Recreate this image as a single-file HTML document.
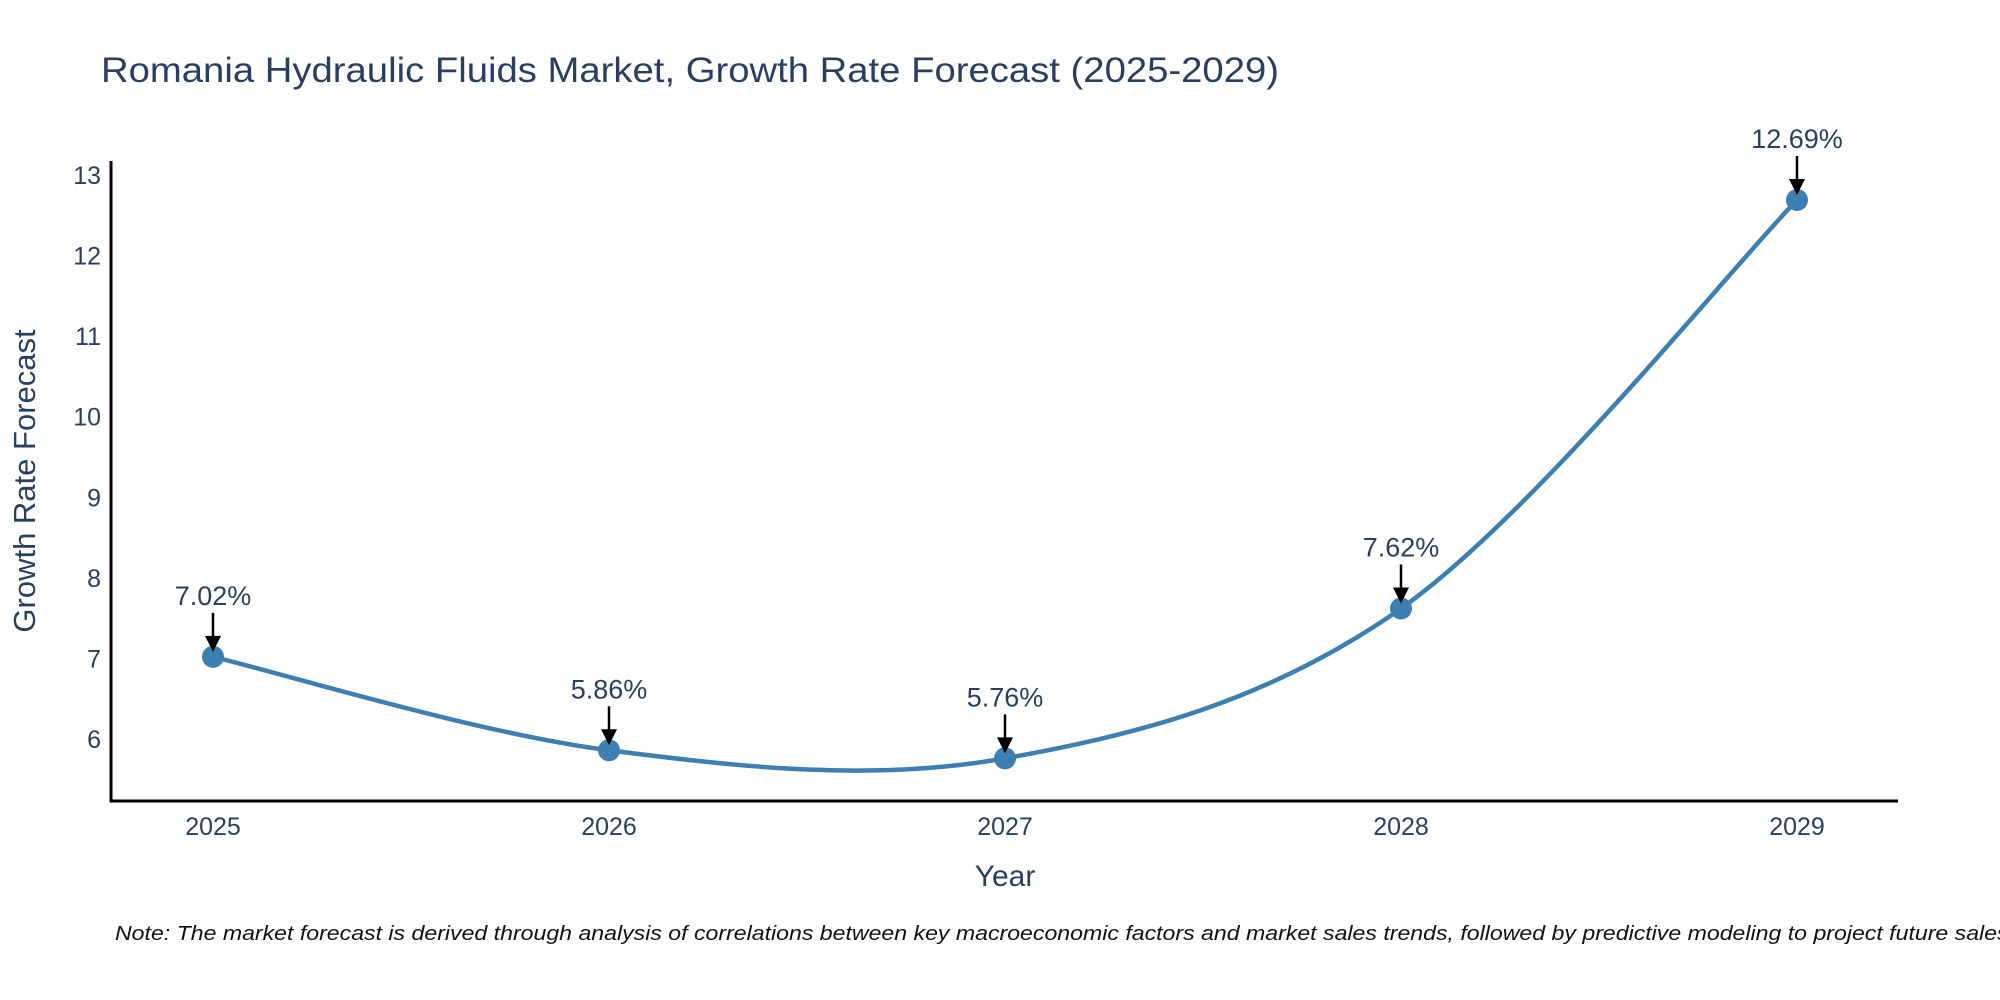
<!DOCTYPE html>
<html><head><meta charset="utf-8"><style>
html,body{margin:0;padding:0;background:#fff;}
svg{display:block;font-family:"Liberation Sans",sans-serif;}
</style></head><body>
<svg id="chart" width="2000" height="1000" viewBox="0 0 2000 1000">
<text x="101" y="82" font-size="35" fill="#2a3f5f" textLength="1178" lengthAdjust="spacingAndGlyphs">Romania Hydraulic Fluids Market, Growth Rate Forecast (2025-2029)</text>
<g id="yticks"></g>
<g id="xticks"></g>
<line x1="111" y1="161" x2="111" y2="802" stroke="#000" stroke-width="3"/>
<line x1="110" y1="801" x2="1898" y2="801" stroke="#000" stroke-width="3"/>
<text transform="translate(35,481) rotate(-90)" text-anchor="middle" font-size="31" fill="#2a3f5f">Growth Rate Forecast</text>
<text x="1005" y="886" text-anchor="middle" font-size="30" fill="#2a3f5f">Year</text>
<path id="line" fill="none" stroke="#3d7fb0" stroke-width="4.5"/>
<g id="points"></g>
<g id="annots"></g>
<text x="115" y="940" font-size="20" font-style="italic" fill="#111" textLength="1900" lengthAdjust="spacingAndGlyphs">Note: The market forecast is derived through analysis of correlations between key macroeconomic factors and market sales trends, followed by predictive modeling to project future sales.</text>
</svg>
<script>
const years = [2025, 2026, 2027, 2028, 2029];
const values = [7.02, 5.86, 5.76, 7.62, 12.69];
const labels = ["7.02%", "5.86%", "5.76%", "7.62%", "12.69%"];
const yTicks = [6, 7, 8, 9, 10, 11, 12, 13];

const NS = "http://www.w3.org/2000/svg";
function xs(i){ return 213 + i * 396; }
function ys(v){ return 739 - (v - 6) * 80.57; }
function mk(tag, attrs, parent){ const e = document.createElementNS(NS, tag); for (const k in attrs) e.setAttribute(k, attrs[k]); parent.appendChild(e); return e; }

const yg = document.getElementById('yticks');
yTicks.forEach(t => {
  const e = mk('text', {x: 101, y: ys(t) + 9, 'text-anchor': 'end', 'font-size': 25, fill: '#2a3f5f'}, yg);
  
  
  e.textContent = t;
});
const xg = document.getElementById('xticks');
years.forEach((y, i) => {
  const e = mk('text', {x: xs(i), y: 835, 'text-anchor': 'middle', 'font-size': 25, fill: '#2a3f5f'}, xg);
  
  
  e.textContent = y;
});

const pts = values.map((v, i) => [xs(i), ys(v)]);
let d = `M${pts[0][0]},${pts[0][1]}`;
for (let i = 0; i < pts.length - 1; i++) {
  const p0 = pts[Math.max(0, i - 1)], p1 = pts[i], p2 = pts[i + 1], p3 = pts[Math.min(pts.length - 1, i + 2)];
  const c1 = [p1[0] + (p2[0] - p0[0]) / 6, p1[1] + (p2[1] - p0[1]) / 6];
  const c2 = [p2[0] - (p3[0] - p1[0]) / 6, p2[1] - (p3[1] - p1[1]) / 6];
  d += ` C${c1[0]},${c1[1]} ${c2[0]},${c2[1]} ${p2[0]},${p2[1]}`;
}
document.getElementById('line').setAttribute('d', d);

const pg = document.getElementById('points');
const ag = document.getElementById('annots');
pts.forEach((p, i) => {
  const c = mk('circle', {cx: p[0], cy: p[1], r: 11, fill: '#3d7fb0'}, pg);
  
  
  const l = mk('line', {x1: p[0], y1: p[1] - 44, x2: p[0], y2: p[1] - 18, stroke: '#000', 'stroke-width': 2.5}, ag);
  
  
  const h = mk('path', {d: `M${p[0]-8},${p[1]-21} L${p[0]+8},${p[1]-21} L${p[0]},${p[1]-5} Z`, fill: '#000'}, ag);
  
  
  const t = mk('text', {x: p[0], y: p[1] - 52, 'text-anchor': 'middle', 'font-size': 27, fill: '#2a3f5f'}, ag);
  
  
  t.textContent = labels[i];
});
</script>
</body></html>
